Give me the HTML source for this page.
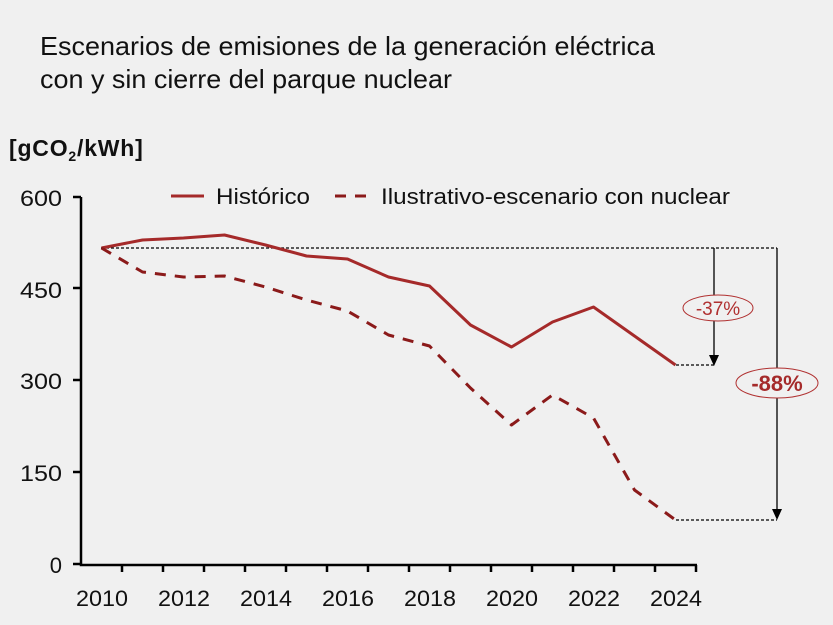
<!DOCTYPE html>
<html><head><meta charset="utf-8"><style>
html,body{margin:0;padding:0;background:#f0f0f0;}
svg{display:block;font-family:"Liberation Sans",Arial,sans-serif;}
</style></head><body>
<svg width="833" height="625" viewBox="0 0 833 625">
<rect width="833" height="625" fill="#f0f0f0"/>
<text x="40" y="55" font-size="26" fill="#111" textLength="615" lengthAdjust="spacingAndGlyphs">Escenarios de emisiones de la generación eléctrica</text>
<text x="40" y="88" font-size="26" fill="#111" textLength="412" lengthAdjust="spacingAndGlyphs">con y sin cierre del parque nuclear</text>
<text x="9" y="156" font-size="23" font-weight="bold" fill="#111" letter-spacing="0.8">[gCO<tspan font-size="14" dy="5">2</tspan><tspan dy="-5">/kWh]</tspan></text>
<!-- axes -->
<g stroke="#000" stroke-width="2.5" fill="none">
<path d="M81 197 V565 H697"/>
<path d="M73 197H81 M73 288H81 M73 380H81 M73 472H81 M73 564H81"/>
<path d="M122 565v7 M163 565v7 M204 565v7 M245 565v7 M286 565v7 M327 565v7 M368 565v7 M409 565v7 M450 565v7 M491 565v7 M532 565v7 M573 565v7 M614 565v7 M655 565v7 M696 565v7"/>
</g>
<g font-size="22" fill="#111" text-anchor="end">
<text x="62" y="206" textLength="42" lengthAdjust="spacingAndGlyphs">600</text><text x="62" y="298" textLength="42" lengthAdjust="spacingAndGlyphs">450</text><text x="62" y="389" textLength="42" lengthAdjust="spacingAndGlyphs">300</text><text x="62" y="481" textLength="42" lengthAdjust="spacingAndGlyphs">150</text><text x="62" y="573">0</text>
</g>
<g font-size="22" fill="#111" text-anchor="middle">
<text x="102" y="606" textLength="52" lengthAdjust="spacingAndGlyphs">2010</text><text x="184" y="606" textLength="52" lengthAdjust="spacingAndGlyphs">2012</text><text x="266" y="606" textLength="52" lengthAdjust="spacingAndGlyphs">2014</text><text x="348" y="606" textLength="52" lengthAdjust="spacingAndGlyphs">2016</text><text x="430" y="606" textLength="52" lengthAdjust="spacingAndGlyphs">2018</text><text x="512" y="606" textLength="52" lengthAdjust="spacingAndGlyphs">2020</text><text x="594" y="606" textLength="52" lengthAdjust="spacingAndGlyphs">2022</text><text x="676" y="606" textLength="52" lengthAdjust="spacingAndGlyphs">2024</text>
</g>
<!-- legend -->
<line x1="171" y1="196" x2="204" y2="196" stroke="#a52a2a" stroke-width="3"/>
<text x="216" y="204" font-size="22" fill="#111" textLength="94" lengthAdjust="spacingAndGlyphs">Histórico</text>
<line x1="335" y1="196" x2="370" y2="196" stroke="#8b1a1a" stroke-width="3" stroke-dasharray="11,9"/>
<text x="381" y="204" font-size="22" fill="#111" textLength="349" lengthAdjust="spacingAndGlyphs">Ilustrativo-escenario con nuclear</text>
<!-- reference lines -->
<g stroke="#000" stroke-width="1.2" stroke-dasharray="3,2" fill="none">
<path d="M101 248H777"/>
<path d="M676 365H714"/>
<path d="M676 520H777"/>
</g>
<g stroke="#000" stroke-width="1.3">
<line x1="714" y1="248" x2="714" y2="355"/>
<line x1="777" y1="248" x2="777" y2="510"/>
</g>
<path d="M709 355H719L714 366Z" fill="#000"/>
<path d="M772 509H782L777 520Z" fill="#000"/>
<!-- series -->
<polyline fill="none" stroke="#a52a2a" stroke-width="3" stroke-linejoin="round" points="101.5,248 142.5,240 183.5,238 224.5,235 265.5,245 306.5,256 347.5,259 388.5,277 429.5,286 470.5,325 511.5,347 552.5,322 593.5,307 634.5,336 675.5,365"/>
<polyline fill="none" stroke="#8b1a1a" stroke-width="3" stroke-dasharray="11,9" stroke-linejoin="round" points="101.5,248 142.5,272 183.5,277 224.5,276 265.5,287 306.5,300 347.5,311 388.5,335 429.5,346 470.5,388 511.5,425 552.5,395 593.5,418 634.5,490 675.5,520"/>
<!-- badges -->
<ellipse cx="718" cy="308" rx="35" ry="13" fill="#f0f0f0" stroke="#b03030" stroke-width="1"/>
<text x="718" y="315" font-size="19" fill="#b03030" text-anchor="middle">-37%</text>
<ellipse cx="777" cy="383" rx="41" ry="15" fill="#f0f0f0" stroke="#b03030" stroke-width="1"/>
<text x="777" y="391" font-size="22" font-weight="bold" fill="#a52a2a" text-anchor="middle">-88%</text>
</svg>
</body></html>
